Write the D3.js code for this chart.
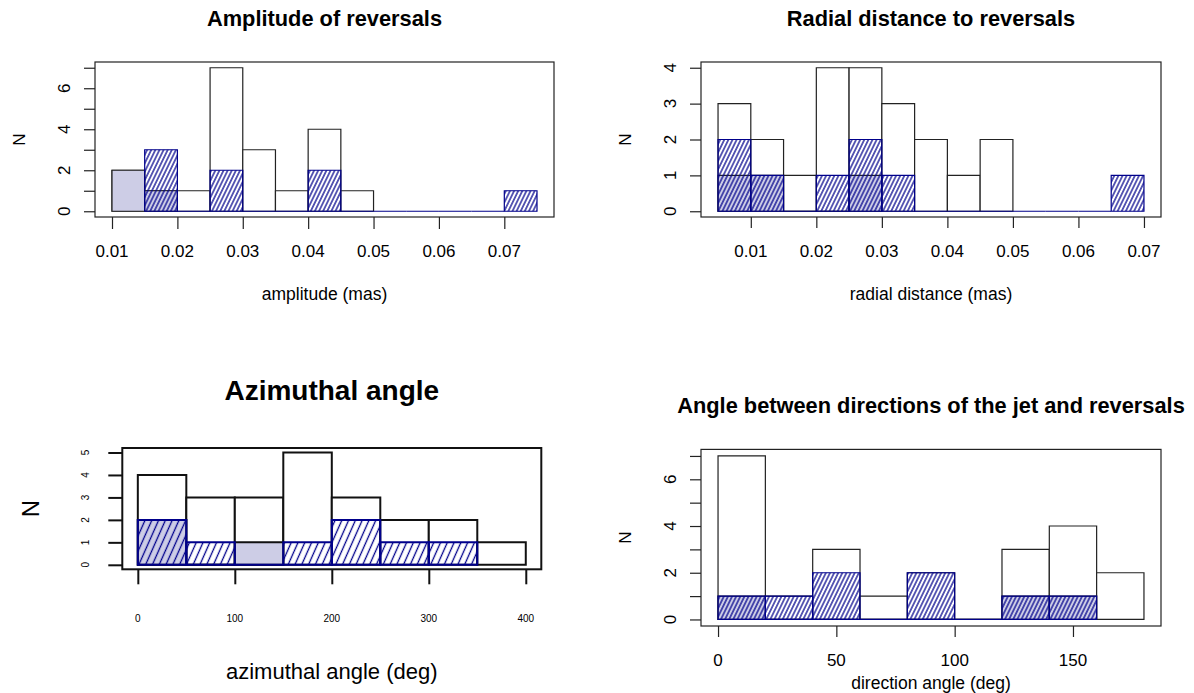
<!DOCTYPE html>
<html>
<head>
<meta charset="utf-8">
<title>Reversals histograms</title>
<script src="https://cdnjs.cloudflare.com/ajax/libs/d3/7.8.5/d3.min.js"></script>
<style>
  body { margin: 0; background: #fff; }
  text { font-family: "Liberation Sans", Arial, sans-serif; fill: #000; }
</style>
</head>
<body>
<script>
// ---- data (counts per bin) ----
// Amplitude of reversals, bins of 0.005
var ampWidth = 0.005;
var ampAllStart = 0.01,   ampAll   = [2, 1, 1, 7, 3, 1, 4, 1];
var ampLavStart = 0.01,   ampLav   = [2, 1];
var ampHatchStart = 0.015, ampHatch = [3, 0, 2, 0, 0, 2, 0, 0, 0, 0, 0, 1];
var ampXTicks = [0.01, 0.02, 0.03, 0.04, 0.05, 0.06, 0.07];
var ampYTicks = [0, 1, 2, 3, 4, 5, 6, 7];
var ampYLabels = [0, 2, 4, 6];

// Radial distance to reversals, bins of 0.005
var radWidth = 0.005;
var radAllStart = 0.005,   radAll   = [3, 2, 1, 4, 4, 3, 2, 1, 2];
var radLavStart = 0.005,   radLav   = [1, 1, 0, 0, 1];
var radHatchStart = 0.005, radHatch = [2, 1, 0, 1, 2, 1, 0, 0, 0, 0, 0, 0, 1];
var radXTicks = [0.01, 0.02, 0.03, 0.04, 0.05, 0.06, 0.07];
var radYTicks = [0, 1, 2, 3, 4];
var radYLabels = [0, 1, 2, 3, 4];

// Azimuthal angle, bins of 50 deg
var aziWidth = 50;
var aziAllStart = 0,   aziAll   = [4, 3, 3, 5, 3, 2, 2, 1];
var aziLavStart = 0,   aziLav   = [2, 0, 1];
var aziHatchStart = 0, aziHatch = [2, 1, 0, 1, 2, 1, 1];
var aziXTicks = [0, 100, 200, 300, 400];
var aziYTicks = [0, 1, 2, 3, 4, 5];
var aziYLabels = [0, 1, 2, 3, 4, 5];

// Angle between jet direction and reversals, bins of 20 deg
var dirWidth = 20;
var dirAllStart = 0,   dirAll   = [7, 1, 3, 1, 2, 0, 3, 4, 2];
var dirLavStart = 0,   dirLav   = [1, 0, 0, 0, 0, 0, 1, 1];
var dirHatchStart = 0, dirHatch = [1, 1, 2, 0, 2, 0, 1, 1];
var dirXTicks = [0, 50, 100, 150];
var dirYTicks = [0, 1, 2, 3, 4, 5, 6, 7];
var dirYLabels = [0, 2, 4, 6];

var blue = "#00008b";
var lavender = "#cdcde6";

var svg = d3.select("body").append("svg")
  .attr("width", 1194).attr("height", 693);
svg.append("rect").attr("width", 1194).attr("height", 693).attr("fill", "white");

var defs = svg.append("defs");
function hatchPattern(id, gap, angle, sw) {
  var p = defs.append("pattern").attr("id", id)
    .attr("patternUnits", "userSpaceOnUse")
    .attr("width", gap).attr("height", gap)
    .attr("patternTransform", "rotate(" + (90 - angle) + ")");
  p.append("line")
    .attr("x1", gap / 2).attr("x2", gap / 2)
    .attr("y1", -1).attr("y2", gap + 1)
    .attr("stroke", blue).attr("stroke-width", sw);
}
hatchPattern("hatchFine", 3.7, 64, 1.25);
hatchPattern("hatchCoarse", 6.2, 66, 1.3);

function bins(start, width, counts) {
  return counts.map(function (c, i) {
    return { x0: start + i * width, x1: start + (i + 1) * width, n: c };
  });
}

var panels = [
  {
    title: "Amplitude of reversals", xlab: "amplitude (mas)",
    all: bins(ampAllStart, ampWidth, ampAll),
    lav: bins(ampLavStart, ampWidth, ampLav),
    hatch: bins(ampHatchStart, ampWidth, ampHatch),
    xTicks: ampXTicks, yTicks: ampYTicks, yLabels: ampYLabels,
    box: { l: 95, r: 554, t: 62, b: 217 },
    fmt: d3.format(".2f"), lw: 1.2, stroke: "#222", pat: "hatchFine",
    titleSize: 21.8, labSize: 17.5, tickSize: 17, nSize: 17,
    titleY: 25.5, xTickY: 256.5, xLabY: 300, yTickX: 70, nX: 25,
    yTickLen: 11, xTickLen: 12
  },
  {
    title: "Radial distance to reversals", xlab: "radial distance (mas)",
    all: bins(radAllStart, radWidth, radAll),
    lav: bins(radLavStart, radWidth, radLav),
    hatch: bins(radHatchStart, radWidth, radHatch),
    xTicks: radXTicks, yTicks: radYTicks, yLabels: radYLabels,
    box: { l: 701, r: 1161, t: 62, b: 217 },
    fmt: d3.format(".2f"), lw: 1.2, stroke: "#222", pat: "hatchFine",
    titleSize: 21.8, labSize: 17.5, tickSize: 17, nSize: 17,
    titleY: 25.5, xTickY: 256.5, xLabY: 300, yTickX: 676, nX: 631,
    yTickLen: 11, xTickLen: 11
  },
  {
    title: "Azimuthal angle", xlab: "azimuthal angle (deg)",
    all: bins(aziAllStart, aziWidth, aziAll),
    lav: bins(aziLavStart, aziWidth, aziLav),
    hatch: bins(aziHatchStart, aziWidth, aziHatch),
    xTicks: aziXTicks, yTicks: aziYTicks, yLabels: aziYLabels,
    box: { l: 122.3, r: 541.3, t: 448, b: 569.3 },
    fmt: d3.format("d"), lw: 2, stroke: "#111", pat: "hatchCoarse",
    titleSize: 28, labSize: 22, tickSize: 10, nSize: 24,
    titleY: 400, xTickY: 622, xLabY: 679, yTickX: 89, nX: 39,
    yTickLen: 14, xTickLen: 15
  },
  {
    title: "Angle between directions of the jet and reversals", xlab: "direction angle (deg)",
    all: bins(dirAllStart, dirWidth, dirAll),
    lav: bins(dirLavStart, dirWidth, dirLav),
    hatch: bins(dirHatchStart, dirWidth, dirHatch),
    xTicks: dirXTicks, yTicks: dirYTicks, yLabels: dirYLabels,
    box: { l: 701, r: 1161, t: 449.4, b: 626 },
    fmt: d3.format("d"), lw: 1.2, stroke: "#222", pat: "hatchFine",
    titleSize: 21.8, labSize: 17.5, tickSize: 17, nSize: 17,
    titleY: 413, xTickY: 665.5, xLabY: 689, yTickX: 676, nX: 631,
    yTickLen: 11, xTickLen: 11
  }
];

panels.forEach(drawPanel);

function drawPanel(p) {
  var g = svg.append("g");
  var allBins = p.all.concat(p.lav, p.hatch);
  var lo = d3.min(allBins, function (d) { return d.x0; });
  var hi = d3.max(allBins, function (d) { return d.x1; });
  var top = d3.max(allBins, function (d) { return d.n; });
  // R-style 4% padding of the axis ranges
  var x = d3.scaleLinear()
    .domain([lo - 0.04 * (hi - lo), hi + 0.04 * (hi - lo)])
    .range([p.box.l, p.box.r]);
  var y = d3.scaleLinear()
    .domain([-0.04 * top, top * 1.04])
    .range([p.box.b, p.box.t]);

  function barPath(d) {
    var path = d3.path();
    path.moveTo(x(d.x0), y(0));
    path.lineTo(x(d.x0), y(d.n));
    path.lineTo(x(d.x1), y(d.n));
    path.lineTo(x(d.x1), y(0));
    path.closePath();
    return path.toString();
  }

  g.append("g").selectAll("path").data(p.all).join("path")
    .attr("d", barPath).attr("fill", "white")
    .attr("stroke", p.stroke).attr("stroke-width", p.lw);
  g.append("g").selectAll("path").data(p.lav).join("path")
    .attr("d", barPath).attr("fill", lavender)
    .attr("stroke", p.stroke).attr("stroke-width", p.lw);
  g.append("g").selectAll("path").data(p.hatch).join("path")
    .attr("d", barPath).attr("fill", "url(#" + p.pat + ")")
    .attr("stroke", blue).attr("stroke-width", p.lw);

  // box
  g.append("rect")
    .attr("x", p.box.l).attr("y", p.box.t)
    .attr("width", p.box.r - p.box.l).attr("height", p.box.b - p.box.t)
    .attr("fill", "none").attr("stroke", p.stroke).attr("stroke-width", p.lw);

  // x axis
  var xa = g.append("g").attr("transform", "translate(0," + p.box.b + ")")
    .call(d3.axisBottom(x).tickValues(p.xTicks).tickFormat(p.fmt)
      .tickSize(p.xTickLen).tickSizeOuter(0));
  xa.select(".domain").remove();
  xa.selectAll("line").attr("stroke", p.stroke).attr("stroke-width", p.lw);
  xa.selectAll("text").remove();
  g.append("g").selectAll("text").data(p.xTicks).join("text")
    .attr("x", function (d) { return x(d); }).attr("y", p.xTickY)
    .attr("text-anchor", "middle").attr("font-size", p.tickSize)
    .text(p.fmt);

  // y axis
  var ya = g.append("g").attr("transform", "translate(" + p.box.l + ",0)")
    .call(d3.axisLeft(y).tickValues(p.yTicks).tickFormat(d3.format("d"))
      .tickSize(p.yTickLen).tickSizeOuter(0));
  ya.select(".domain").remove();
  ya.selectAll("line").attr("stroke", p.stroke).attr("stroke-width", p.lw);
  ya.selectAll("text").remove();
  g.append("g").selectAll("text").data(p.yLabels).join("text")
    .attr("transform", function (d) {
      return "translate(" + p.yTickX + "," + y(d) + ") rotate(-90)";
    })
    .attr("text-anchor", "middle").attr("font-size", p.tickSize)
    .text(function (d) { return d; });

  var cx = (p.box.l + p.box.r) / 2;
  g.append("text").attr("x", cx).attr("y", p.titleY)
    .attr("text-anchor", "middle").attr("font-weight", "bold")
    .attr("font-size", p.titleSize).text(p.title);
  g.append("text").attr("x", cx).attr("y", p.xLabY)
    .attr("text-anchor", "middle").attr("font-size", p.labSize).text(p.xlab);
  g.append("text")
    .attr("transform", "translate(" + p.nX + "," + (p.box.t + p.box.b) / 2 + ") rotate(-90)")
    .attr("text-anchor", "middle").attr("font-size", p.nSize).text("N");
}
</script>
</body>
</html>
